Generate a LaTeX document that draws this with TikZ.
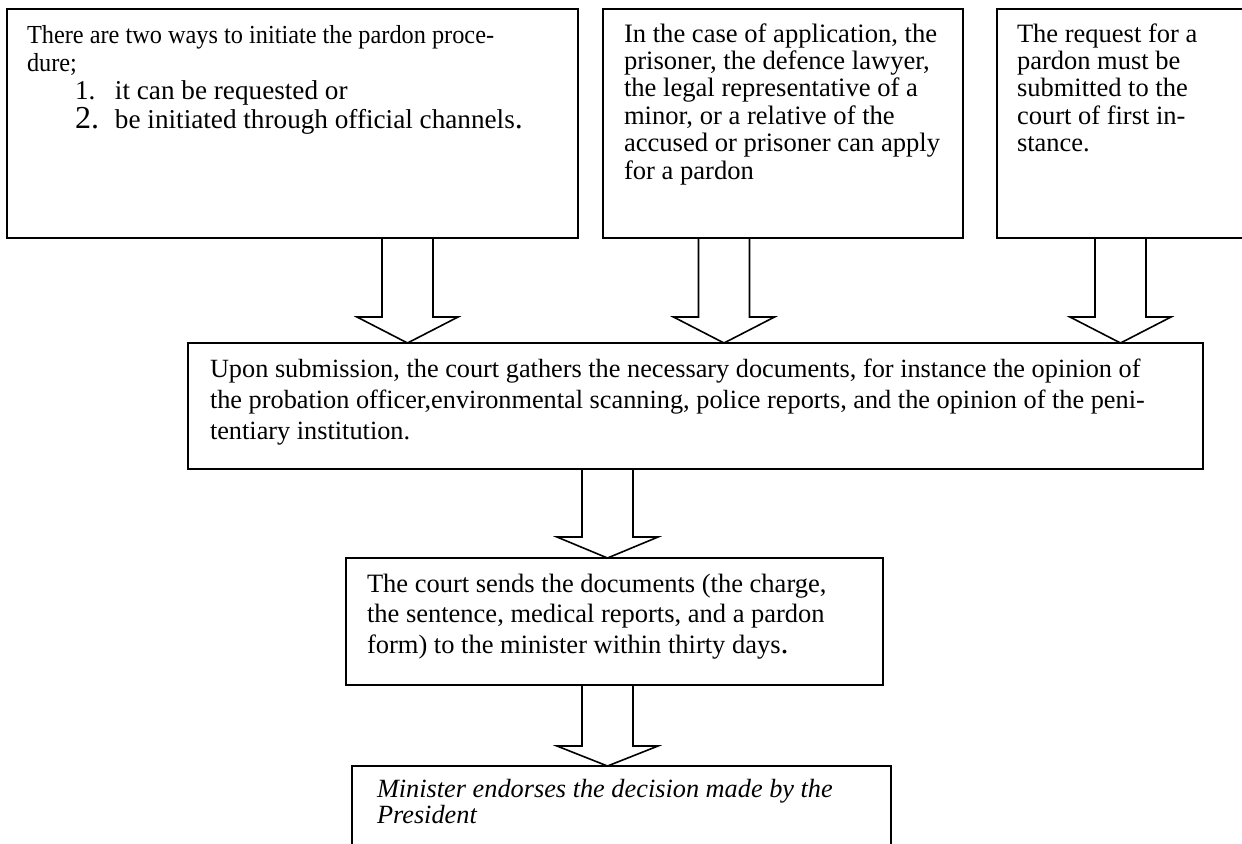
\documentclass[tikz,border=0pt]{standalone}
\usepackage{fontspec}
\setmainfont{Liberation Serif}
\newfontfamily\narrowserif[FakeStretch=0.935]{Liberation Serif}
\usetikzlibrary{calc}
\newcommand{\myst}{\rule{0pt}{10pt}}
\newcommand{\listfont}{\fontsize{13.6}{14.2}\selectfont}
\tikzset{
  box/.style={draw, line width=0.8pt, inner sep=0pt, outer sep=0pt, anchor=north west},
  txt/.style={inner sep=0pt, outer sep=0pt, anchor=north west, align=left},
  barrow/.style={draw, line width=0.8pt, line join=miter,
    to path={let \p1=(\tikztostart), \p2=(\tikztotarget) in
      (\x1-12.75pt,\y1) -- (\x1-12.75pt,\y2+#1) -- (\x1-25.25pt,\y2+#1) -- (\x2,\y2)
      -- (\x1+25.25pt,\y2+#1) -- (\x1+12.75pt,\y2+#1) -- (\x1+12.75pt,\y1) -- cycle}}
}
\begin{document}
\begin{tikzpicture}[x=0.5pt,y=-0.5pt]
\useasboundingbox (0,0) rectangle (1242,843);
\clip (0,0) rectangle (1242,843);

% boxes
\node[box, minimum width=285.5pt, minimum height=114.5pt] (b1) at (7,9) {};
\node[box, minimum width=180pt, minimum height=114.5pt] (b2) at (603,9) {};
\node[box, minimum width=160pt, minimum height=114.5pt] (b3) at (997,9) {};
\node[box, minimum width=507.5pt, minimum height=63pt] (mid) at (188,343) {};
\node[box, minimum width=268.5pt, minimum height=63.5pt] (court) at (346,558) {};
\node[box, minimum width=269.5pt, minimum height=100pt] (last) at (352,766) {};

% texts
\node[txt, font=\fontsize{13}{14.2}\selectfont] (b1t) at (27,23)
  {\myst{\narrowserif There are two ways to initiate the pardon proce-}\\
   {\narrowserif dure;}\\
   {\listfont\hspace*{24pt}\makebox[20pt][l]{1.}it can be requested or}\\
   {\listfont\hspace*{24pt}\makebox[20pt][l]{\smash{\fontsize{16}{16}\selectfont 2.}}be initiated through official channels{\fontsize{16}{16}\selectfont .}}};
\node[txt, font=\fontsize{13.3}{13.7}\selectfont] (b2t) at (624,22)
  {\myst In the case of application, the\\
   prisoner, the defence lawyer,\\
   the legal representative of a\\
   minor, or a relative of the\\
   accused or prisoner can apply\\
   for a pardon};
\node[txt, font=\fontsize{13.25}{13.7}\selectfont] (b3t) at (1017,22)
  {\myst The request for a\\
   pardon must be\\
   submitted to the\\
   court of first in-\\
   stance.};
\node[txt, font=\fontsize{13.15}{15.5}\selectfont] (midt) at (210,357)
  {\myst Upon submission, the court gathers the necessary documents, for instance the opinion of\\
   the probation officer,environmental scanning, police reports, and the opinion of the peni-\\
   tentiary institution.};
\node[txt, font=\fontsize{13.25}{15}\selectfont] (courtt) at (367,572)
  {\myst The court sends the documents (the charge,\\
   the sentence, medical reports, and a pardon\\[0.5pt]
   form) to the minister within thirty days{\fontsize{16}{16}\selectfont .}};
\node[txt, font=\fontsize{13.15}{13}\selectfont\itshape] (lastt) at (377,777)
  {\myst Minister endorses the decision made by the\\
   President};

% block arrows
\coordinate (s1) at ([xshift=200.25pt]b1.south west);
\coordinate (s2) at ([xshift=60.5pt]b2.south west);
\coordinate (s3) at ([xshift=61.75pt]b3.south west);
\coordinate (s4) at ([xshift=209.75pt]mid.south west);
\coordinate (s5) at ([xshift=130.75pt]court.south west);
\draw[barrow=13pt] (s1) to (s1 |- mid.north);
\draw[barrow=13pt] (s2) to (s2 |- mid.north);
\draw[barrow=13pt] (s3) to (s3 |- mid.north);
\draw[barrow=10.5pt] (s4) to (s4 |- court.north);
\draw[barrow=10pt] (s5) to (s5 |- last.north);
\end{tikzpicture}
\end{document}
